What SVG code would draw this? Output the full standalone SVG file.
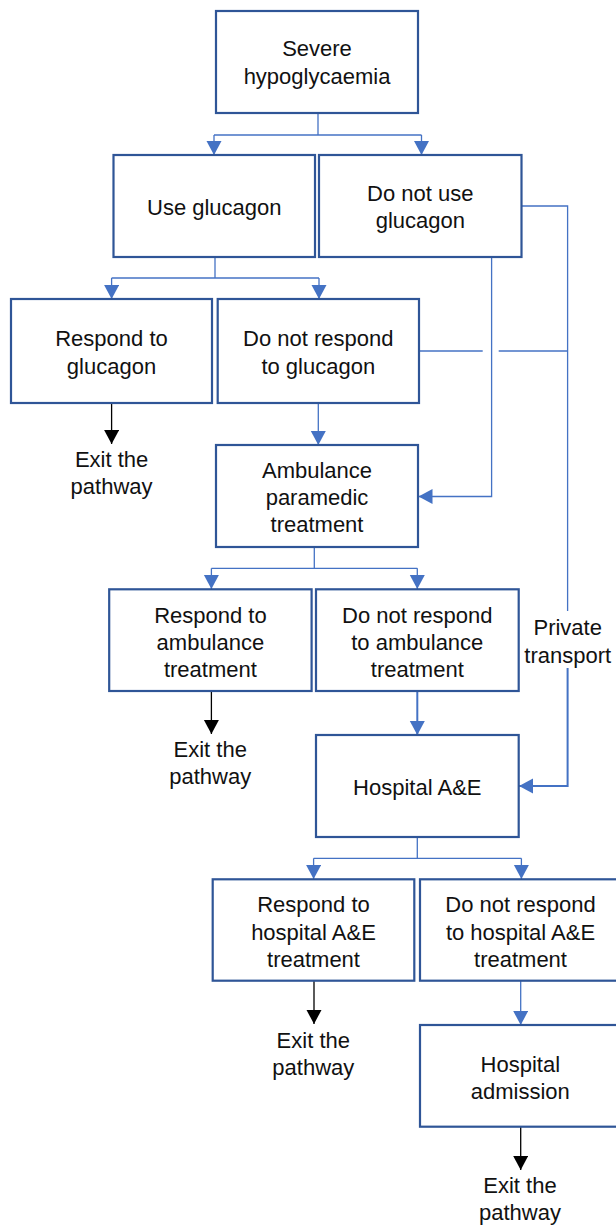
<svg xmlns="http://www.w3.org/2000/svg" width="616" height="1225" viewBox="0 0 616 1225">
<style>
  .box { fill: #ffffff; stroke: #2F5597; stroke-width: 2.2; }
  .lbl { font-family: "Liberation Sans", Arial, sans-serif; font-size: 22px; fill: #111111; text-anchor: middle; }
  .c { fill: none; stroke: #4472C4; stroke-width: 1.3; }
  .ct { fill: none; stroke: #4472C4; stroke-width: 2; }
  .cb { fill: none; stroke: #000000; stroke-width: 1.3; }
</style>
<defs>
  <marker id="ab" markerUnits="userSpaceOnUse" markerWidth="16" markerHeight="16" refX="14" refY="7.5" orient="auto">
    <path d="M0,0 L14,7.5 L0,15 z" fill="#4472C4"/>
  </marker>
  <marker id="ak" markerUnits="userSpaceOnUse" markerWidth="16" markerHeight="16" refX="14" refY="7.5" orient="auto">
    <path d="M0,0 L14,7.5 L0,15 z" fill="#000000"/>
  </marker>
</defs>
<rect width="616" height="1225" fill="#ffffff"/>

<g id="connectors">
  <path class="c" d="M318,113 V135"/>
  <path class="c" d="M214,135 H421.5"/>
  <path class="c" d="M214,135 V155" marker-end="url(#ab)"/>
  <path class="c" d="M421.5,135 V155" marker-end="url(#ab)"/>

  <path class="c" d="M215,257 V278"/>
  <path class="c" d="M111.6,278 H319"/>
  <path class="c" d="M111.6,278 V299" marker-end="url(#ab)"/>
  <path class="c" d="M319,278 V299" marker-end="url(#ab)"/>

  <path class="c" d="M491.6,257 V496.5 H418.5" marker-end="url(#ab)"/>
  <path class="c" d="M521.8,206 H567.6 V611"/>
  <path class="ct" d="M567.6,668 V786 H519" marker-end="url(#ab)"/>
  <path class="c" d="M419,351 H482.7"/>
  <path class="c" d="M498.7,351 H567.6"/>

  <path class="cb" d="M111.6,403 V444" marker-end="url(#ak)"/>
  <path class="c" d="M318.3,403 V445" marker-end="url(#ab)"/>

  <path class="c" d="M314.3,547 V568.3"/>
  <path class="c" d="M211.4,568.3 H417.3"/>
  <path class="c" d="M211.4,568.3 V589" marker-end="url(#ab)"/>
  <path class="c" d="M417.3,568.3 V589" marker-end="url(#ab)"/>

  <path class="cb" d="M211.4,691 V734" marker-end="url(#ak)"/>
  <path class="ct" d="M417.3,691 V735" marker-end="url(#ab)"/>

  <path class="c" d="M417.3,837 V858.3"/>
  <path class="c" d="M313.6,858.3 H521.4"/>
  <path class="c" d="M313.6,858.3 V879" marker-end="url(#ab)"/>
  <path class="c" d="M521.4,858.3 V879" marker-end="url(#ab)"/>

  <path class="cb" d="M314,981 V1024" marker-end="url(#ak)"/>
  <path class="c" d="M520.7,981 V1025" marker-end="url(#ab)"/>
  <path class="cb" d="M520.7,1127 V1170" marker-end="url(#ak)"/>
</g>

<g id="n-severe">
  <rect class="box" x="216" y="11" width="202" height="102"/>
  <text class="lbl" x="317" y="56">Severe</text>
  <text class="lbl" x="317" y="83.5">hypoglycaemia</text>
</g>
<g id="n-use-glucagon">
  <rect class="box" x="113.5" y="155" width="201.5" height="102"/>
  <text class="lbl" x="214.3" y="214.5">Use glucagon</text>
</g>
<g id="n-not-use-glucagon">
  <rect class="box" x="319" y="155" width="202.5" height="102"/>
  <text class="lbl" x="420.3" y="200.5">Do not use</text>
  <text class="lbl" x="420.3" y="228">glucagon</text>
</g>
<g id="n-respond-glucagon">
  <rect class="box" x="11" y="299" width="201" height="104"/>
  <text class="lbl" x="111.5" y="346">Respond to</text>
  <text class="lbl" x="111.5" y="373.5">glucagon</text>
</g>
<g id="n-not-respond-glucagon">
  <rect class="box" x="217.7" y="299" width="201.3" height="104"/>
  <text class="lbl" x="318.3" y="346">Do not respond</text>
  <text class="lbl" x="318.3" y="373.5">to glucagon</text>
</g>
<g id="n-exit-1">
  <text class="lbl" x="111.6" y="466.5">Exit the</text>
  <text class="lbl" x="111.6" y="494">pathway</text>
</g>
<g id="n-ambulance">
  <rect class="box" x="216" y="445" width="202" height="102"/>
  <text class="lbl" x="317" y="477.5">Ambulance</text>
  <text class="lbl" x="317" y="505">paramedic</text>
  <text class="lbl" x="317" y="532.3">treatment</text>
</g>
<g id="n-respond-ambulance">
  <rect class="box" x="109.2" y="589.3" width="202.4" height="101.7"/>
  <text class="lbl" x="210.4" y="622.5">Respond to</text>
  <text class="lbl" x="210.4" y="650">ambulance</text>
  <text class="lbl" x="210.4" y="677.3">treatment</text>
</g>
<g id="n-not-respond-ambulance">
  <rect class="box" x="316" y="589.3" width="202.7" height="101.7"/>
  <text class="lbl" x="417.3" y="622.5">Do not respond</text>
  <text class="lbl" x="417.3" y="650">to ambulance</text>
  <text class="lbl" x="417.3" y="677.3">treatment</text>
</g>
<g id="n-private-transport">
  <text class="lbl" x="567.7" y="635">Private</text>
  <text class="lbl" x="567.7" y="662.5">transport</text>
</g>
<g id="n-exit-2">
  <text class="lbl" x="210.2" y="756.7">Exit the</text>
  <text class="lbl" x="210.2" y="784">pathway</text>
</g>
<g id="n-hospital-ae">
  <rect class="box" x="316" y="735" width="202.7" height="102"/>
  <text class="lbl" x="417.3" y="795">Hospital A&amp;E</text>
</g>
<g id="n-respond-hospital">
  <rect class="box" x="212.7" y="879.3" width="201.6" height="101.4"/>
  <text class="lbl" x="313.5" y="912.3">Respond to</text>
  <text class="lbl" x="313.5" y="940">hospital A&amp;E</text>
  <text class="lbl" x="313.5" y="967.3">treatment</text>
</g>
<g id="n-not-respond-hospital">
  <rect class="box" x="420" y="879.3" width="202" height="101.4"/>
  <text class="lbl" x="520.5" y="912.3">Do not respond</text>
  <text class="lbl" x="520.5" y="940">to hospital A&amp;E</text>
  <text class="lbl" x="520.5" y="967.3">treatment</text>
</g>
<g id="n-exit-3">
  <text class="lbl" x="313.3" y="1047.7">Exit the</text>
  <text class="lbl" x="313.3" y="1075">pathway</text>
</g>
<g id="n-hospital-admission">
  <rect class="box" x="420" y="1025" width="202" height="101.7"/>
  <text class="lbl" x="520.3" y="1071.7">Hospital</text>
  <text class="lbl" x="520.3" y="1099">admission</text>
</g>
<g id="n-exit-4">
  <text class="lbl" x="520" y="1193.3">Exit the</text>
  <text class="lbl" x="520" y="1220">pathway</text>
</g>
</svg>
